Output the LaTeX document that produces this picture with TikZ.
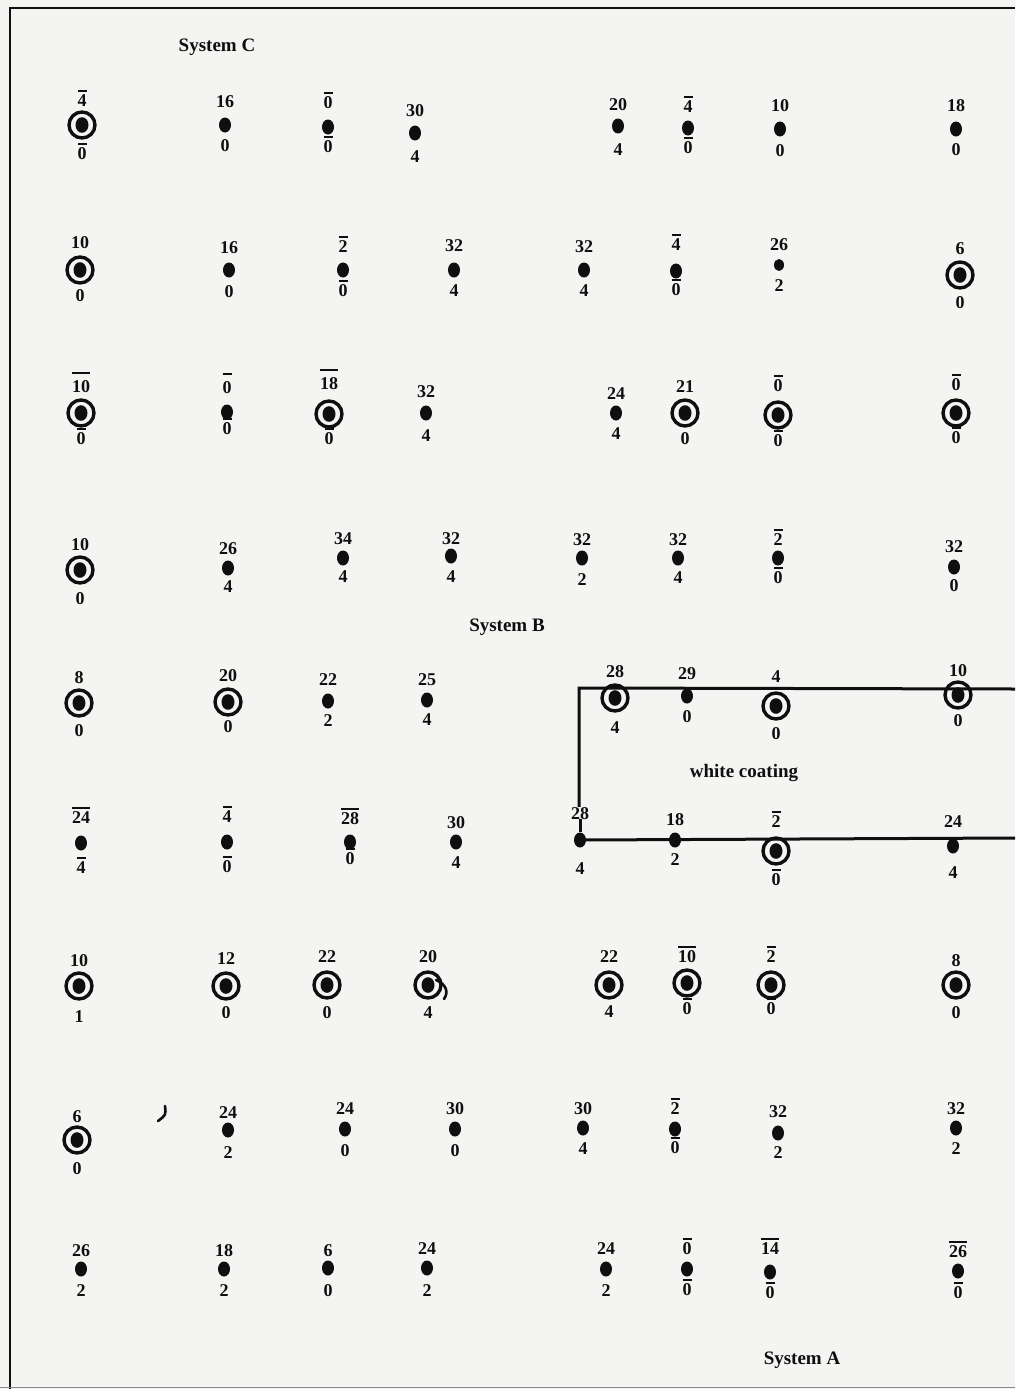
\documentclass[tikz,border=0pt]{standalone}
\usepackage{fontspec}
\setmainfont{Liberation Serif}
\usetikzlibrary{shapes.geometric}
\definecolor{paper}{RGB}{244,244,242}
\definecolor{ink}{RGB}{15,15,15}
\newcommand\ob[1]{\leavevmode\vbox{\hrule height 1.8pt\kern 2pt\hbox{#1}}}
\newcommand\obw[1]{\leavevmode\vbox{\hrule height 1.8pt\kern 6pt\hbox{#1}}}
\newcommand\mk[8]{\node[#4] (#1) at (#2,#3) {}; \node[lbl] (#1t) at (#2,#6) {#5}; \node[lbl] (#1b) at (#2,#8) {#7};}
\tikzset{
  dotm/.style={ellipse, fill=ink, minimum width=12pt, minimum height=15pt, inner sep=0pt},
  dots/.style={ellipse, fill=ink, minimum width=10pt, minimum height=12pt, inner sep=0pt},
  ring/.style={circle, draw=ink, line width=3.4pt, minimum size=26pt, inner sep=0pt,
    path picture={\fill[ink] (path picture bounding box.center) ellipse (6.5pt and 7.8pt);}},
  lbl/.style={font=\fontsize{18}{18}\selectfont\bfseries, text=ink, inner sep=0pt, anchor=base},
  title/.style={font=\fontsize{19}{19}\selectfont\bfseries, text=ink, inner sep=0pt},
  coat/.style={draw=ink, line width=3pt},
  frame/.style={draw=ink, line width=2pt},
  stroke/.style={draw=ink, line width=2.6pt, line cap=round}
}
\begin{document}
\begin{tikzpicture}[x=1pt,y=-1pt]
\useasboundingbox (0,0) rectangle (1015,1389);
\fill[paper] (0,0) rectangle (1015,1389);
% frame
\coordinate (fb) at (10,1389);
\coordinate (ftl) at (10,8);
\coordinate (ftr) at (1015,8);
\draw[frame] (fb) -- (ftl) -- (ftr);
\coordinate (bl) at (0,1387);
\coordinate (brr) at (1015,1387);
\draw[draw=ink!50, line width=1pt] (bl) -- (brr);
% titles
\node[title] (sysC) at (217,47) {System C};
\node[title] (sysB) at (507,627) {System B};
\node[title] (sysA) at (802,1360) {System A};
\node[title] (coating) at (744,773) {white coating};
% row 1
\mk{a1}{82}{125}{ring}{\ob{4}}{106}{\ob{0}}{159}
\mk{a2}{225}{125}{dotm}{16}{107}{0}{151}
\mk{a3}{328}{127}{dotm}{\ob{0}}{108}{\ob{0}}{152}
\mk{a4}{415}{133}{dotm}{30}{116}{4}{162}
\mk{a5}{618}{126}{dotm}{20}{110}{4}{155}
\mk{a6}{688}{128}{dotm}{\ob{4}}{112}{\ob{0}}{153}
\mk{a7}{780}{129}{dotm}{10}{111}{0}{156}
\mk{a8}{956}{129}{dotm}{18}{111}{0}{155}
% row 2
\mk{b1}{80}{270}{ring}{10}{248}{0}{301}
\mk{b2}{229}{270}{dotm}{16}{253}{0}{297}
\mk{b3}{343}{270}{dotm}{\ob{2}}{252}{\ob{0}}{296}
\mk{b4}{454}{270}{dotm}{32}{251}{4}{296}
\mk{b5}{584}{270}{dotm}{32}{252}{4}{296}
\mk{b6}{676}{271}{dotm}{\ob{4}}{250}{\ob{0}}{295}
\mk{b7}{779}{265}{dots}{26}{250}{2}{291}
\mk{b8}{960}{275}{ring}{6}{254}{0}{308}
% row 3
\mk{c1}{81}{413}{ring}{\obw{10}}{392}{\ob{0}}{444}
\mk{c2}{227}{412}{dotm}{\obw{0}}{393}{\ob{0}}{434}
\mk{c3}{329}{414}{ring}{\obw{18}}{389}{\ob{0}}{444}
\mk{c4}{426}{413}{dotm}{32}{397}{4}{441}
\mk{c5}{616}{413}{dotm}{24}{399}{4}{439}
\mk{c6}{685}{413}{ring}{21}{392}{0}{444}
\mk{c7}{778}{415}{ring}{\ob{0}}{391}{\ob{0}}{446}
\mk{c8}{956}{413}{ring}{\ob{0}}{390}{\ob{0}}{443}
% row 4
\mk{d1}{80}{570}{ring}{10}{550}{0}{604}
\mk{d2}{228}{568}{dotm}{26}{554}{4}{592}
\mk{d3}{343}{558}{dotm}{34}{544}{4}{582}
\mk{d4}{451}{556}{dotm}{32}{544}{4}{582}
\mk{d5}{582}{558}{dotm}{32}{545}{2}{585}
\mk{d6}{678}{558}{dotm}{32}{545}{4}{583}
\mk{d7}{778}{558}{dotm}{\ob{2}}{545}{\ob{0}}{583}
\mk{d8}{954}{567}{dotm}{32}{552}{0}{591}
% row 5
\mk{e1}{79}{703}{ring}{8}{683}{0}{736}
\mk{e2}{228}{702}{ring}{20}{681}{0}{732}
\mk{e3}{328}{701}{dotm}{22}{685}{2}{726}
\mk{e4}{427}{700}{dotm}{25}{685}{4}{725}
\mk{e5}{615}{698}{ring}{28}{677}{4}{733}
\mk{e6}{687}{696}{dotm}{29}{679}{0}{722}
\mk{e7}{776}{706}{ring}{4}{682}{0}{739}
\mk{e8}{958}{695}{ring}{10}{676}{0}{726}
% row 6
\mk{f1}{81}{843}{dotm}{\ob{24}}{823}{\ob{4}}{873}
\mk{f2}{227}{842}{dotm}{\ob{4}}{822}{\ob{0}}{872}
\mk{f3}{350}{842}{dotm}{\ob{28}}{824}{\ob{0}}{864}
\mk{f4}{456}{842}{dotm}{30}{828}{4}{868}
\mk{f5}{580}{840}{dotm}{28}{819}{4}{874}
\mk{f6}{675}{840}{dotm}{18}{825}{2}{865}
\mk{f7}{776}{851}{ring}{\ob{2}}{827}{\ob{0}}{885}
\mk{f8}{953}{846}{dotm}{24}{827}{4}{878}
% row 7
\mk{g1}{79}{986}{ring}{10}{966}{1}{1022}
\mk{g2}{226}{986}{ring}{12}{964}{0}{1018}
\mk{g3}{327}{985}{ring}{22}{962}{0}{1018}
\mk{g4}{428}{985}{ring}{20}{962}{4}{1018}
\mk{g5}{609}{985}{ring}{22}{962}{4}{1017}
\mk{g6}{687}{983}{ring}{\ob{10}}{962}{\ob{0}}{1014}
\mk{g7}{771}{985}{ring}{\ob{2}}{962}{\ob{0}}{1014}
\mk{g8}{956}{985}{ring}{8}{966}{0}{1018}
% row 8
\mk{h1}{77}{1140}{ring}{6}{1122}{0}{1174}
\mk{h2}{228}{1130}{dotm}{24}{1118}{2}{1158}
\mk{h3}{345}{1129}{dotm}{24}{1114}{0}{1156}
\mk{h4}{455}{1129}{dotm}{30}{1114}{0}{1156}
\mk{h5}{583}{1128}{dotm}{30}{1114}{4}{1154}
\mk{h6}{675}{1129}{dotm}{\ob{2}}{1114}{\ob{0}}{1153}
\mk{h7}{778}{1133}{dotm}{32}{1117}{2}{1158}
\mk{h8}{956}{1128}{dotm}{32}{1114}{2}{1154}
% row 9
\mk{i1}{81}{1269}{dotm}{26}{1256}{2}{1296}
\mk{i2}{224}{1269}{dotm}{18}{1256}{2}{1296}
\mk{i3}{328}{1268}{dotm}{6}{1256}{0}{1296}
\mk{i4}{427}{1268}{dotm}{24}{1254}{2}{1296}
\mk{i5}{606}{1269}{dotm}{24}{1254}{2}{1296}
\mk{i6}{687}{1269}{dotm}{\ob{0}}{1254}{\ob{0}}{1295}
\mk{i7}{770}{1272}{dotm}{\ob{14}}{1254}{\ob{0}}{1298}
\mk{i8}{958}{1271}{dotm}{\ob{26}}{1257}{\ob{0}}{1298}
% white coating boundary
\coordinate (tl) at (579,688);
\coordinate (tr) at (1015,689);
\coordinate (br) at (1015,838);
\draw[coat] (tr) -- (tl) -- (tl |- f5t.north);
\draw[coat] (f5t.south) -- (f5);
\draw[coat] (f5) -- (br);
% stray marks
\draw[stroke] (436,980) .. controls (446,984) and (449,992) .. (444,999);
\draw[stroke] (165,1106) .. controls (166,1115) .. (158,1121);
\end{tikzpicture}
\end{document}
